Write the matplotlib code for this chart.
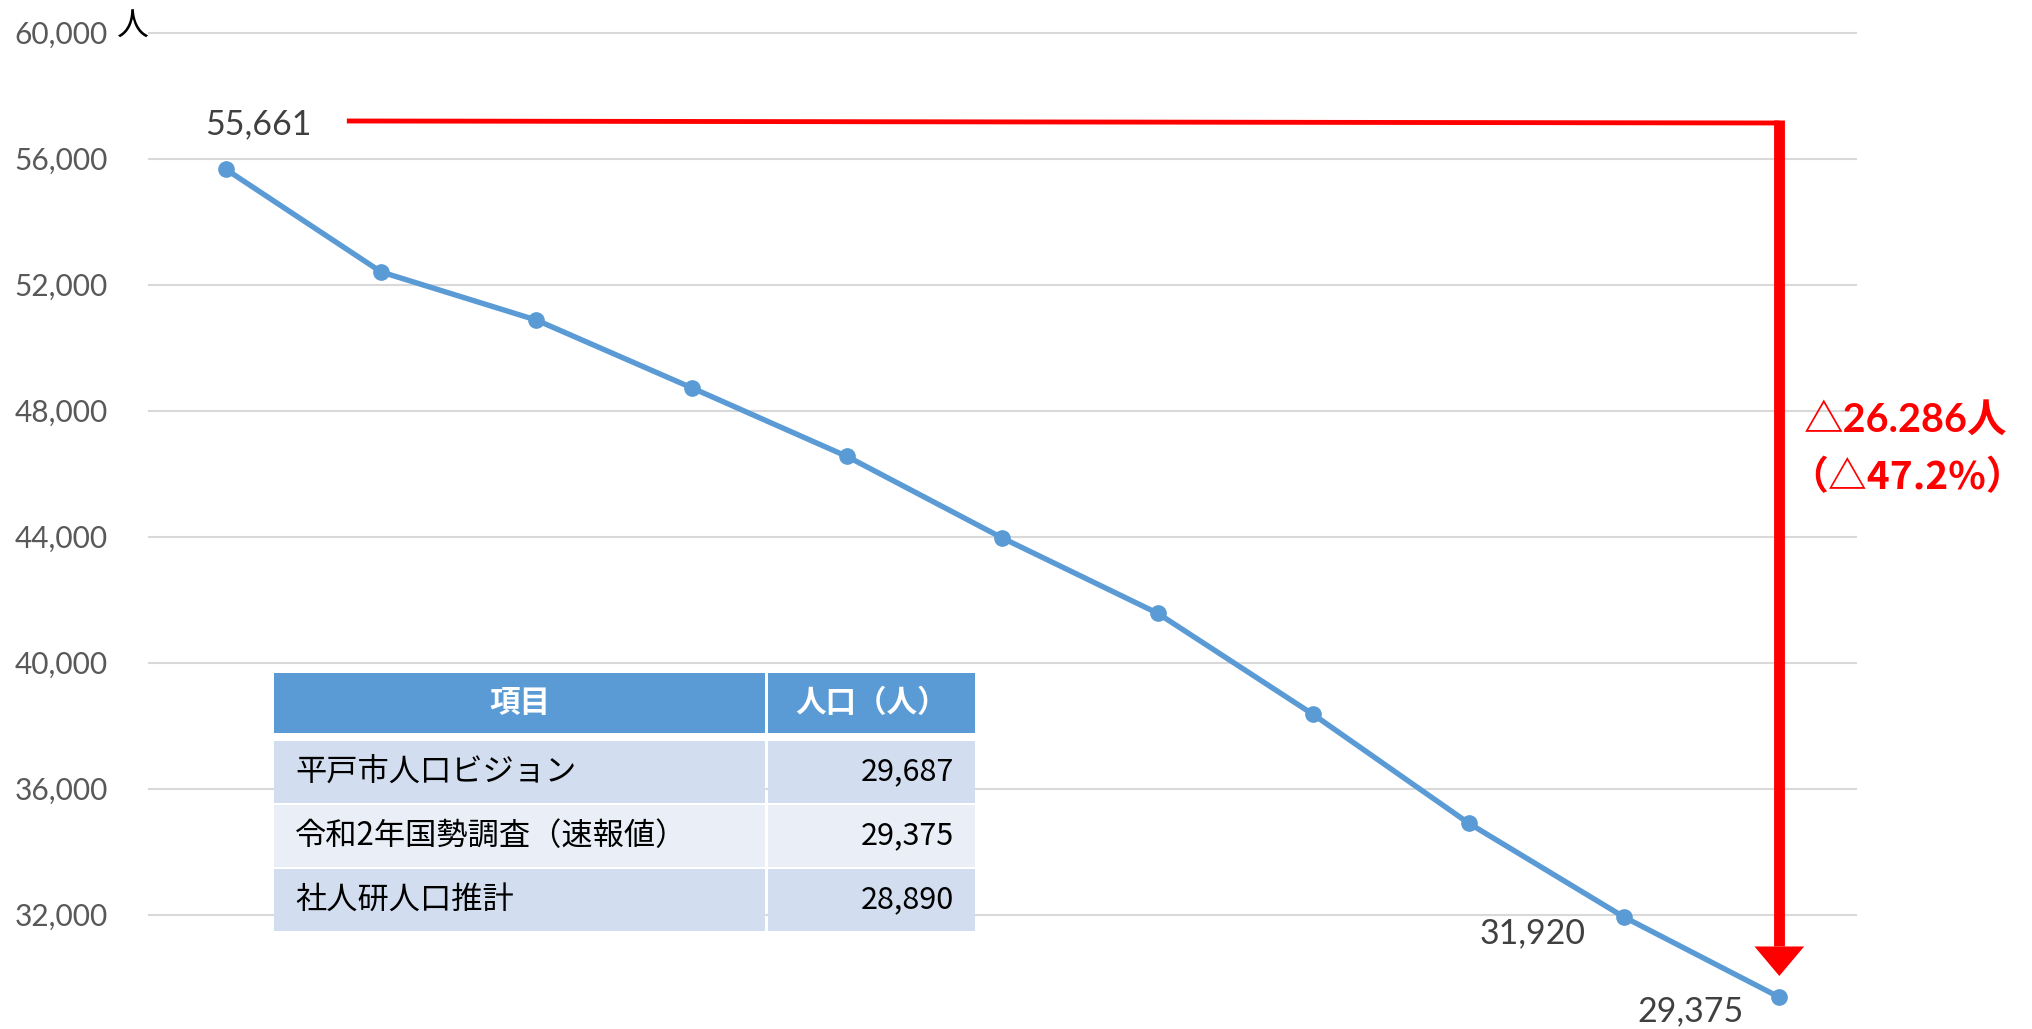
import matplotlib
matplotlib.use('Agg')
import matplotlib.pyplot as plt
from matplotlib.patches import Rectangle, Polygon
from matplotlib.ticker import FuncFormatter

# ---------------- data ----------------
years = [1970, 1975, 1980, 1985, 1990, 1995, 2000, 2005, 2010, 2015, 2020]
population = [55661, 52400, 50870, 48720, 46540, 43950, 41560, 38350, 34900, 31920, 29375]
y_ticks = [32000, 36000, 40000, 44000, 48000, 52000, 56000, 60000]
labeled_idx = [0, 9, 10]
unit_label = "人"

table_header = ["項目", "人口（人）"]
table_items = ["平戸市人口ビジョン", "令和2年国勢調査（速報値）", "社人研人口推計"]
table_values = [29687, 29375, 28890]

decrease_text = "△26.286人"
rate_text = "（△47.2%）"

# ---------------- style ----------------
LAT = ['Lato', 'Noto Sans CJK JP', 'DejaVu Sans']
CJK = ['Noto Sans CJK JP', 'DejaVu Sans']
plt.rcParams['font.family'] = LAT

W, H = 2033, 1029
fig = plt.figure(figsize=(W / 100, H / 100), dpi=100)

# main axes (pixel-based placement)
top_px = 10
ax = fig.add_axes([148 / W, 0, (1857 - 148) / W, 1 - top_px / H])
px_per_unit = 126 / 4000
y_top = 60000 + (32.5 - top_px) / px_per_unit
y_bot = 60000 - (H - 32.5) / px_per_unit

x = list(range(len(years)))
line_color = '#5B9BD5'
ax.plot(x, population, color=line_color, lw=3.9, marker='o', ms=11,
        zorder=3, solid_capstyle='round', solid_joinstyle='round')
ax.set_xlim(-0.5, len(years) - 0.5)
ax.set_ylim(y_bot, y_top)
ax.set_yticks(y_ticks)
ax.yaxis.set_major_formatter(FuncFormatter(lambda v, p: f"{int(v):,}"))
ax.tick_params(axis='y', length=0, pad=29, labelsize=21.5, labelcolor='#595959')
ax.set_xticks([])
ax.grid(axis='y', color='#D9D9D9', lw=1.5)
ax.set_axisbelow(True)
for s in ax.spines.values():
    s.set_visible(False)

# data labels
label_offsets = {0: (33, 45), 9: (-91, -16), 10: (-89, -14)}
for i in labeled_idx:
    ax.annotate(f"{population[i]:,}", (x[i], population[i]),
                xytext=label_offsets[i], textcoords='offset pixels',
                ha='center', va='center', fontsize=24.5, color='#404040')

# red bracket arrow
red = '#FF0000'
h_top = population[0] + 1530
h_end = population[0] + 1466
ax.plot([x[0] + 0.78, x[-1]], [h_top, h_end], color=red, lw=3.5,
        solid_capstyle='butt', zorder=4)
head_top = population[-1] + 1610
tip = population[-1] + 673
ax.plot([x[-1], x[-1]], [h_end + 80, head_top], color=red, lw=7.8,
        solid_capstyle='butt', zorder=4)
hw = 0.16
ax.add_patch(Polygon([(x[-1] - hw, head_top), (x[-1] + hw, head_top), (x[-1], tip)],
                     closed=True, color=red, lw=0, zorder=4))

fig.text(1804 / W, 1 - 420 / H, decrease_text, color=red, fontsize=28.5,
         fontweight='bold', ha='left', va='center', family=LAT)
fig.text(1789 / W, 1 - 478 / H, rate_text, color=red, fontsize=28,
         fontweight='bold', ha='left', va='center', family=CJK)

# unit label
fig.text(133 / W, 1 - 27 / H, unit_label, fontsize=23, ha='center', va='center',
         family=CJK, color='black')

# ---------------- table ----------------
tl, tr, tt, tb = 274, 975, 673, 932
tax = fig.add_axes([tl / W, 1 - tb / H, (tr - tl) / W, (tb - tt) / H])
tax.set_xlim(0, tr - tl)
tax.set_ylim(tb - tt, 0)
tax.axis('off')
tax.set_zorder(5)

col_spans = [(0, 491), (494, tr - tl)]
header_h = 60
row_top0 = 68
row_h = 61.5
row_step = 64
row_colors = ['#D2DEEF', '#EAEFF7', '#D2DEEF']

for (c0, c1), txt in zip(col_spans, table_header):
    tax.add_patch(Rectangle((c0, 0), c1 - c0, header_h, color='#5B9BD5', lw=0))
    tax.text((c0 + c1) / 2, header_h / 2, txt, ha='center', va='center',
             fontsize=22, fontweight='bold', color='white', family=CJK)

for r, (item, val) in enumerate(zip(table_items, table_values)):
    y0 = row_top0 + r * row_step
    for (c0, c1) in col_spans:
        tax.add_patch(Rectangle((c0, y0), c1 - c0, row_h, color=row_colors[r], lw=0))
    yc = y0 + row_h / 2
    tax.text(21, yc, item, ha='left', va='center', fontsize=22.5, color='black', family=CJK)
    tax.text(680, yc, f"{val:,}", ha='right', va='center', fontsize=22,
             color='black', family=CJK)

fig.savefig('out.png', dpi=100)
